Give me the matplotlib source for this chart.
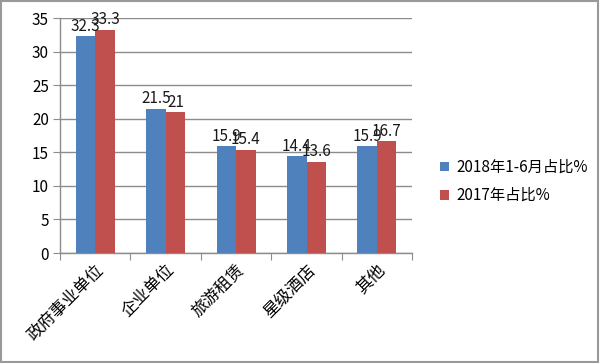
import matplotlib
matplotlib.use("Agg")
import matplotlib.pyplot as plt
import numpy as np
from matplotlib.patches import Rectangle

plt.rcParams['font.family'] = ['Noto Sans CJK SC', 'DejaVu Sans']

categories = ["政府事业单位", "企业单位", "旅游租赁", "星级酒店", "其他"]
series_2018 = [32.3, 21.5, 15.9, 14.4, 15.9]
series_2017 = [33.3, 21.0, 15.4, 13.6, 16.7]
labels_2018 = ["32.3", "21.5", "15.9", "14.4", "15.9"]
labels_2017 = ["33.3", "21", "15.4", "13.6", "16.7"]
legend_names = ["2018年1-6月占比%", "2017年占比%"]
yticks = [0, 5, 10, 15, 20, 25, 30, 35]

blue = "#4F81BD"
red = "#C0504D"
gray = "#8C8C8C"

fig = plt.figure(figsize=(6.0, 3.63), dpi=100)
ax = fig.add_axes([0.1, 0.303, 0.587, 0.647])

x = np.arange(len(categories))
w = 0.277
b1 = ax.bar(x - w/2, series_2018, w, color=blue, label=legend_names[0], zorder=3)
b2 = ax.bar(x + w/2, series_2017, w, color=red, label=legend_names[1], zorder=3)

for rect, lab in zip(b1, labels_2018):
    ax.text(rect.get_x() + rect.get_width()/2, rect.get_height() + 0.2, lab,
            ha='center', va='bottom', fontsize=11, color='#1a1a1a', zorder=4)
for rect, lab in zip(b2, labels_2017):
    ax.text(rect.get_x() + rect.get_width()/2, rect.get_height() + 0.2, lab,
            ha='center', va='bottom', fontsize=11, color='#1a1a1a', zorder=4)

ax.set_xlim(-0.5, len(categories) - 0.5)
ax.set_ylim(0, 35)
ax.set_yticks(yticks)
ax.yaxis.grid(True, color=gray, linewidth=1.0, zorder=0)
ax.set_axisbelow(True)

ax.set_xticks(np.arange(len(categories) + 1) - 0.5, minor=False)
ax.set_xticklabels([])
ax.set_xticks(x, minor=True)
ax.set_xticklabels(categories, minor=True, rotation=45, ha='right',
                   rotation_mode='anchor', fontsize=12)
ax.tick_params(axis='x', which='minor', length=0, pad=6)
ax.tick_params(axis='x', which='major', length=5, color=gray, direction='out')
ax.tick_params(axis='y', length=5, color=gray, labelsize=11, pad=3)

for s in ['top', 'right']:
    ax.spines[s].set_visible(False)
for s in ['left', 'bottom']:
    ax.spines[s].set_color(gray)
    ax.spines[s].set_linewidth(1.0)

ax.legend(loc='center left', bbox_to_anchor=(0.71, 0.5), bbox_transform=fig.transFigure,
          frameon=False, fontsize=11, handlelength=0.6, handleheight=0.6,
          handletextpad=0.5, labelspacing=0.75)

fig.patches.append(Rectangle((0.002, 0.003), 0.995, 0.993, transform=fig.transFigure,
                             fill=False, edgecolor='#999999', linewidth=1.5))

fig.savefig("out.png", dpi=100)
